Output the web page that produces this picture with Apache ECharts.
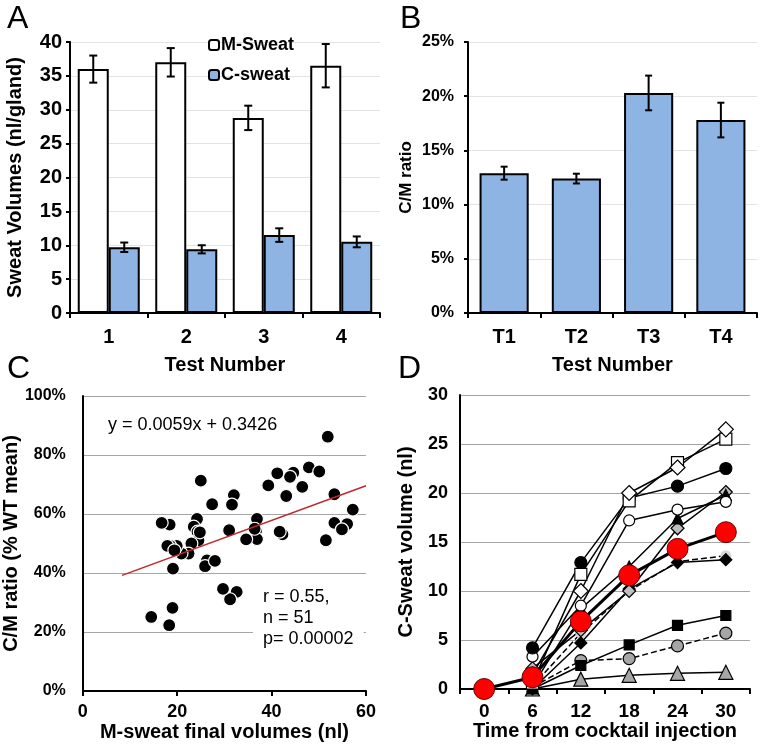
<!DOCTYPE html>
<html><head><meta charset="utf-8">
<script src="https://cdn.jsdelivr.net/npm/echarts@6/dist/echarts.min.js"></script>
<style>html,body{margin:0;padding:0;background:#fff}#c{width:762px;height:749px}</style>
</head><body><div id="c"></div>
<script>
// ---------- Panel A ----------
const testCats = ['1', '2', '3', '4'];
const mSweat = [36.0, 37.0, 28.8, 36.5];
const mSweatErr = [2.0, 2.1, 1.8, 3.2];
const cSweat = [9.7, 9.4, 11.5, 10.5];
const cSweatErr = [0.7, 0.6, 1.0, 0.8];
// ---------- Panel B ----------
const ratioCats = ['T1', 'T2', 'T3', 'T4'];
const ratio = [12.9, 12.4, 20.3, 17.8];
const ratioErr = [0.6, 0.45, 1.6, 1.6];
// ---------- Panel C ----------
const scatterX = [51.9,47.9,50.1,41.2,44.6,43.9,46.5,39.3,43.1,53.3,57.2,53.3,56.0,54.9,51.5,42.3,41.7,36.9,36.7,36.9,34.6,32.0,31.6,31.0,32.6,31.2,29.7,27.4,25.0,24.2,23.5,24.3,24.5,23.0,26.3,25.9,28.0,22.4,20.9,19.9,18.5,17.9,19.4,18.4,16.7,19.1,19.0,18.3,14.5,24.8,36.4];
const scatterY = [86.2,75.8,74.4,73.8,74.0,72.6,69.2,69.7,66.1,66.7,61.5,57.0,56.6,54.8,51.1,53.1,54.0,58.3,54.2,51.5,51.4,66.4,63.2,54.5,33.6,31.1,34.6,63.3,71.3,58.3,55.7,54.0,51.1,50.0,44.3,42.3,44.1,46.6,46.6,49.2,49.2,49.2,47.7,56.4,57.0,41.5,28.2,22.3,25.1,53.8,55.0];
const trendX = [8.3, 60];
const trendY = [39.2, 69.6];
// ---------- Panel D ----------
const timeCats = ['0', '6', '12', '18', '24', '30'];
const dWhiteDiamond = [null, 1.5, 10.0, 20.0, 22.6, 26.5];
const dWhiteSquare  = [null, 0.6, 11.7, 19.2, 23.1, 25.5];
const dBlackCircle  = [null, 4.2, 12.9, 19.5, 20.7, 22.5];
const dWhiteCircle  = [null, 3.3, 8.5, 17.2, 18.3, 19.1];
const dBlackTri     = [null, 0.3, 8.2, 12.5, 17.4, 19.8];
const dGrayDiamond  = [null, 2.1, 6.0, 10.0, 16.4, 20.1];
const dBlackDiamond = [null, 0.0, 4.7, 10.2, 12.9, 13.2];
const dLightCircle  = [null, 0.3, 5.7, 10.0, 13.0, 13.6];
const dBlackSquare  = [null, 0.0, 2.4, 4.5, 6.5, 7.5];
const dGrayCircle   = [null, 0.2, 2.9, 3.1, 4.4, 5.7];
const dGrayTri      = [null, 0.0, 1.0, 1.4, 1.6, 1.7];
const dMean         = [0, 1.2, 6.9, 11.6, 14.3, 16.0];

const FF = 'Liberation Sans, Arial, sans-serif';
const chart = echarts.init(document.getElementById('c'), null, {renderer: 'canvas'});

function errSeries(xi, yi, vals, errs, offFrac, capW) {
  return {
    type: 'custom', xAxisIndex: xi, yAxisIndex: yi, z: 10,
    data: vals.map((v, i) => [i, v, errs[i]]),
    encode: {x: 0, y: 1},
    renderItem: function (params, api) {
      const i = api.value(0), v = api.value(1), e = api.value(2);
      const top = api.coord([i, v + e]);
      const bot = api.coord([i, v - e]);
      const bw = api.size([1, 0])[0];
      const x = top[0] + offFrac * bw;
      const st = {stroke: '#000', lineWidth: 2};
      return {type: 'group', children: [
        {type: 'line', shape: {x1: x, y1: top[1], x2: x, y2: bot[1]}, style: st},
        {type: 'line', shape: {x1: x - capW, y1: top[1], x2: x + capW, y2: top[1]}, style: st},
        {type: 'line', shape: {x1: x - capW, y1: bot[1], x2: x + capW, y2: bot[1]}, style: st}
      ]};
    }
  };
}

const axisLine = {show: true, lineStyle: {color: '#000', width: 2}};
const tickOut = {show: true, length: 5, lineStyle: {color: '#000', width: 2}};
function lbl(size, margin, fmt) {
  const o = {fontFamily: FF, fontWeight: 'bold', fontSize: size, color: '#000', margin: margin};
  if (fmt) o.formatter = fmt;
  return o;
}
function nm(size) { return {fontFamily: FF, fontWeight: 'bold', fontSize: size, color: '#000'}; }

function dLine(name, data, symbol, size, fill, dashed, extra) {
  const s = {
    name: name, type: 'line', xAxisIndex: 3, yAxisIndex: 3, data: data,
    symbol: symbol, symbolSize: size, showSymbol: true,
    lineStyle: {color: '#000', width: 1.5, type: dashed ? 'dashed' : 'solid'},
    itemStyle: {color: fill, borderColor: '#000', borderWidth: 1.2},
    z: 5, animation: false
  };
  return Object.assign(s, extra || {});
}

const option = {
  animation: false,
  textStyle: {fontFamily: FF},
  grid: [
    {left: 70, top: 42, width: 310, height: 271},
    {left: 468, top: 42, width: 289, height: 271},
    {left: 73, top: 396, width: 293, height: 295},
    {left: 460, top: 395, width: 290, height: 294}
  ],
  legend: {
    data: ['M-Sweat', 'C-sweat'], orient: 'vertical', left: 203, top: 31,
    itemWidth: 10, itemHeight: 10, itemGap: 12,
    textStyle: {fontFamily: FF, fontWeight: 'bold', fontSize: 18, color: '#000', padding: [0, 0, 0, -3]}
  },
  xAxis: [
    {gridIndex: 0, type: 'category', data: testCats, axisLine: axisLine, axisTick: tickOut,
     axisLabel: lbl(20, 14), name: 'Test Number', nameLocation: 'middle', nameGap: 42, nameTextStyle: nm(20)},
    {gridIndex: 1, type: 'category', data: ratioCats, axisLine: axisLine, axisTick: tickOut,
     axisLabel: lbl(20, 14), name: 'Test Number', nameLocation: 'middle', nameGap: 42, nameTextStyle: nm(20)},
    {gridIndex: 2, type: 'value', min: 0, max: 60, interval: 20, axisLine: axisLine, axisTick: tickOut,
     splitLine: {show: false}, axisLabel: lbl(18, 12), name: 'M-sweat final volumes (nl)',
     nameLocation: 'middle', nameGap: 31, nameTextStyle: nm(20)},
    {gridIndex: 3, type: 'category', data: timeCats, axisLine: axisLine, axisTick: tickOut,
     axisLabel: lbl(19, 13), name: 'Time from cocktail injection', nameLocation: 'middle', nameGap: 31, nameTextStyle: nm(20)}
  ],
  yAxis: [
    {gridIndex: 0, type: 'value', min: 0, max: 40, interval: 5, axisLine: axisLine,
     axisTick: {show: true, length: 4, lineStyle: {color: '#000', width: 2}},
     splitLine: {show: true, lineStyle: {color: '#e3e3e3', width: 1}},
     axisLabel: lbl(20, 8), name: 'Sweat Volumes (nl/gland)', nameLocation: 'middle', nameGap: 45, nameTextStyle: nm(20)},
    {gridIndex: 1, type: 'value', min: 0, max: 25, interval: 5, axisLine: axisLine,
     axisTick: {show: true, length: 4, lineStyle: {color: '#000', width: 2}},
     splitLine: {show: true, lineStyle: {color: '#e3e3e3', width: 1}},
     axisLabel: lbl(16, 14, '{value}%'), name: 'C/M ratio', nameLocation: 'middle', nameGap: 53, nameTextStyle: nm(17)},
    {gridIndex: 2, type: 'value', min: 0, max: 100, interval: 20, axisLine: axisLine, axisTick: {show: false},
     splitLine: {show: true, lineStyle: {color: '#a6a6a6', width: 1.2}},
     axisLabel: lbl(16, 17, '{value}%'), name: 'C/M ratio (% WT mean)', nameLocation: 'middle', nameGap: 49, nameTextStyle: nm(20)},
    {gridIndex: 3, type: 'value', min: 0, max: 30, interval: 5, axisLine: axisLine, axisTick: {show: false},
     splitLine: {show: true, lineStyle: {color: '#a6a6a6', width: 1.2}},
     axisLabel: lbl(18, 12), name: 'C-Sweat volume (nl)', nameLocation: 'middle', nameGap: 44, nameTextStyle: nm(20)}
  ],
  series: [
    {name: 'M-Sweat', type: 'bar', xAxisIndex: 0, yAxisIndex: 0, data: mSweat, barGap: '0%', barCategoryGap: '20%',
     itemStyle: {color: '#ffffff', borderColor: '#000', borderWidth: 2}},
    {name: 'C-sweat', type: 'bar', xAxisIndex: 0, yAxisIndex: 0, data: cSweat, barGap: '0%', barCategoryGap: '20%',
     itemStyle: {color: '#8db4e2', borderColor: '#000', borderWidth: 2}},
    errSeries(0, 0, mSweat, mSweatErr, -0.2, 4),
    errSeries(0, 0, cSweat, cSweatErr, 0.2, 4),
    {name: 'ratio', type: 'bar', xAxisIndex: 1, yAxisIndex: 1, data: ratio, barCategoryGap: '32%',
     itemStyle: {color: '#8db4e2', borderColor: '#000', borderWidth: 2}},
    errSeries(1, 1, ratio, ratioErr, 0, 3.5),
    {name: 'scatter', type: 'scatter', xAxisIndex: 2, yAxisIndex: 2, z: 4,
     data: scatterX.map((x, i) => [x, scatterY[i]]), symbolSize: 13,
     itemStyle: {color: '#000', borderColor: '#fff', borderWidth: 1.2, opacity: 1}},
    {name: 'trend', type: 'line', xAxisIndex: 2, yAxisIndex: 2, z: 6, showSymbol: false, symbol: 'none',
     data: trendX.map((x, i) => [x, trendY[i]]), lineStyle: {color: '#c0282d', width: 1.5}},
    dLine('graytri', dGrayTri, 'triangle', 14, '#a6a6a6', false),
    dLine('graycircle', dGrayCircle, 'circle', 12, '#a6a6a6', true),
    dLine('blacksquare', dBlackSquare, 'rect', 10, '#000', false),
    dLine('lightcircle', dLightCircle, 'circle', 11, '#d9d9d9', true, {itemStyle: {color: '#d9d9d9', borderColor: '#d9d9d9', borderWidth: 0}}),
    dLine('blackdiamond', dBlackDiamond, 'diamond', 12, '#000', false),
    dLine('graydiamond', dGrayDiamond, 'diamond', 13, '#bfbfbf', false),
    dLine('blacktri', dBlackTri, 'triangle', 11, '#000', false),
    dLine('whitecircle', dWhiteCircle, 'circle', 11, '#fff', false),
    dLine('blackcircle', dBlackCircle, 'circle', 12, '#000', false),
    dLine('whitesquare', dWhiteSquare, 'rect', 12, '#fff', false),
    dLine('whitediamond', dWhiteDiamond, 'diamond', 15, '#fff', false),
    dLine('mean', dMean, 'circle', 21, '#ff0000', false,
      {lineStyle: {color: '#000', width: 3}, itemStyle: {color: '#ff0000', borderColor: '#600', borderWidth: 1}, z: 8})
  ],
  graphic: [
    {type: 'text', left: 7, top: 3, style: {text: 'A', font: '32px ' + FF, fill: '#000'}},
    {type: 'text', left: 400, top: 3, style: {text: 'B', font: '32px ' + FF, fill: '#000'}},
    {type: 'text', left: 7, top: 353, style: {text: 'C', font: '32px ' + FF, fill: '#000'}},
    {type: 'text', left: 398, top: 353, style: {text: 'D', font: '32px ' + FF, fill: '#000'}},
    {type: 'text', x: 108, y: 425, z: 50, style: {text: 'y = 0.0059x + 0.3426', font: '18px ' + FF, fill: '#000', verticalAlign: 'middle'}},
    {type: 'text', x: 253, y: 585, z: 50, style: {text: 'r = 0.55,\nn = 51\np= 0.00002', font: '18px ' + FF, fill: '#000',
      lineHeight: 21, backgroundColor: '#fff', padding: [2, 10, 2, 10], verticalAlign: 'top'}}
  ]
};
chart.setOption(option);
</script></body></html>
